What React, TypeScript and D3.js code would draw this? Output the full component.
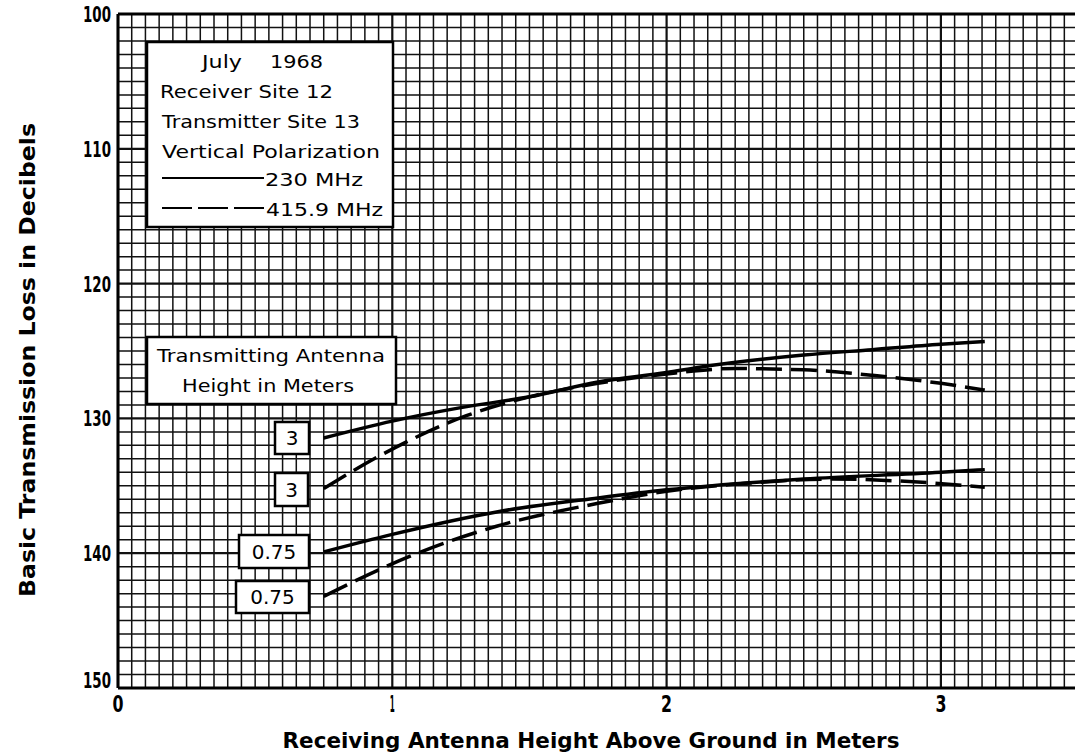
import React from "react";
import * as d3 from "d3";

// ---- Data ----
const xTicks = [0, 1, 2, 3];
const yTicks = [100, 110, 120, 130, 140, 150];

// Transmitting antenna 3 m, 230 MHz (solid)
const solid3X = [0.75, 1.0, 1.25, 1.5, 1.75, 2.0, 2.12, 2.5, 2.75, 3.0, 3.16];
const solid3Y = [131.45, 130.2, 129.2, 128.4, 127.3, 126.6, 126.2, 125.3, 124.9, 124.5, 124.3];
// Transmitting antenna 3 m, 415.9 MHz (dashed)
const dash3X = [0.75, 0.97, 1.27, 1.5, 1.75, 2.0, 2.25, 2.5, 2.75, 3.0, 3.16];
const dash3Y = [135.2, 132.6, 129.8, 128.4, 127.4, 126.7, 126.3, 126.4, 126.8, 127.4, 127.9];
// Transmitting antenna 0.75 m, 230 MHz (solid)
const solid075X = [0.75, 1.0, 1.39, 1.75, 2.0, 2.5, 3.0, 3.16];
const solid075Y = [139.9, 138.6, 136.9, 135.9, 135.3, 134.5, 134.0, 133.8];
// Transmitting antenna 0.75 m, 415.9 MHz (dashed)
const dash075X = [0.75, 1.08, 1.38, 1.75, 2.0, 2.3, 2.6, 2.9, 3.16];
const dash075Y = [143.2, 140.1, 138.0, 136.3, 135.4, 134.8, 134.5, 134.7, 135.1];

const curveLabels = ["3", "3", "0.75", "0.75"];
const legendLines = ["July", "Receiver Site 12", "Transmitter Site 13", "Vertical Polarization", "230 MHz", "415.9 MHz"];

const W = 1075;
const H = 756;
const left = 118;
const right = 1075;
const top = 14;
const bottom = 688;

const FONT = "'DejaVu Sans', sans-serif";

export default function App() {
  const x = d3.scaleLinear().domain([0, 1]).range([left, left + 274.3]);
  const y = d3.scaleLinear().domain([100, 150]).range([top, bottom]);
  const xMax = x.invert(right);

  const vGrid = d3.range(0, xMax + 0.001, 0.05);
  const hGrid = d3.range(100, 150.001, 1);

  const line = d3
    .line<[number, number]>()
    .x((d) => x(d[0]))
    .y((d) => y(d[1]))
    .curve(d3.curveMonotoneX);

  const zip = (a: number[], b: number[]) => a.map((v, i) => [v, b[i]] as [number, number]);

  const series = [
    { pts: zip(solid3X, solid3Y), dash: null },
    { pts: zip(dash3X, dash3Y), dash: "26 9" },
    { pts: zip(solid075X, solid075Y), dash: null },
    { pts: zip(dash075X, dash075Y), dash: "26 9" },
  ];

  const labelBoxes = [
    { x0: 275, x1: 309, y0: 422, y1: 454 },
    { x0: 275, x1: 308, y0: 473, y1: 506 },
    { x0: 239, x1: 309, y0: 535, y1: 568 },
    { x0: 236, x1: 309, y0: 581, y1: 613 },
  ];

  return (
    <svg width={W} height={H} style={{ display: "block", position: "absolute", left: 0, top: 0 }}>
      <rect x={0} y={0} width={W} height={H} fill="#fff" />
      <g stroke="#111">
        {vGrid.map((v, i) => (
          <line
            key={"v" + i}
            x1={x(v)}
            x2={x(v)}
            y1={top}
            y2={bottom}
            strokeWidth={i % 20 === 0 ? 2.2 : 1.5}
          />
        ))}
        {hGrid.map((v, i) => (
          <line
            key={"h" + i}
            x1={left}
            x2={right}
            y1={y(v)}
            y2={y(v)}
            strokeWidth={i % 10 === 0 ? 2.2 : 1.5}
          />
        ))}
      </g>
      <line x1={left} x2={right} y1={top} y2={top} stroke="#000" strokeWidth={3} />
      <line x1={left} x2={right} y1={bottom} y2={bottom} stroke="#000" strokeWidth={3} />
      <line x1={left} x2={left} y1={top} y2={bottom} stroke="#000" strokeWidth={3} />

      {yTicks.map((t) => (
        <text
          key={"yt" + t}
          x={111}
          y={y(t) + (t === 150 ? 0 : 8)}
          textAnchor="end"
          fontFamily={FONT}
          fontWeight="bold"
          fontSize={22}
          textLength={28}
          lengthAdjust="spacingAndGlyphs"
        >
          {t}
        </text>
      ))}
      {xTicks.map((t) => (
        <text
          key={"xt" + t}
          x={x(t)}
          y={bottom + 24}
          textAnchor="middle"
          fontFamily={FONT}
          fontWeight="bold"
          fontSize={23}
          textLength={t === 1 ? 5 : 11}
          lengthAdjust="spacingAndGlyphs"
        >
          {t}
        </text>
      ))}

      <text
        x={591}
        y={748}
        textAnchor="middle"
        fontFamily={FONT}
        fontWeight="bold"
        fontSize={21}
        textLength={617}
        lengthAdjust="spacingAndGlyphs"
      >
        Receiving Antenna Height Above Ground in Meters
      </text>
      <text
        transform={`translate(35, 360) rotate(-90)`}
        textAnchor="middle"
        fontFamily={FONT}
        fontWeight="bold"
        fontSize={21}
        textLength={474}
        lengthAdjust="spacingAndGlyphs"
      >
        Basic Transmission Loss in Decibels
      </text>

      <rect x={147} y={42} width={246} height={185} fill="#fff" stroke="#000" strokeWidth={2.5} />
      <g fontFamily={FONT} fontSize={18} fill="#000">
        <text x={202} y={68} textLength={40} lengthAdjust="spacingAndGlyphs">{legendLines[0]}</text>
        <text x={270} y={68} textLength={53} lengthAdjust="spacingAndGlyphs">1968</text>
        <text x={160} y={98} textLength={173} lengthAdjust="spacingAndGlyphs">{legendLines[1]}</text>
        <text x={162} y={128} textLength={198} lengthAdjust="spacingAndGlyphs">{legendLines[2]}</text>
        <text x={162} y={158} textLength={218} lengthAdjust="spacingAndGlyphs">{legendLines[3]}</text>
        <line x1={162} x2={264} y1={178} y2={178} stroke="#000" strokeWidth={2} />
        <text x={265} y={186} textLength={98} lengthAdjust="spacingAndGlyphs">{legendLines[4]}</text>
        <line x1={162} x2={266} y1={208} y2={208} stroke="#000" strokeWidth={2} strokeDasharray="30 6" />
        <text x={266} y={216} textLength={117} lengthAdjust="spacingAndGlyphs">{legendLines[5]}</text>
      </g>

      <rect x={147} y={337} width={249} height={67} fill="#fff" stroke="#000" strokeWidth={2.5} />
      <g fontFamily={FONT} fontSize={17} fill="#000" textAnchor="middle">
        <text x={271} y={362} textLength={228} lengthAdjust="spacingAndGlyphs">Transmitting Antenna</text>
        <text x={268} y={392} textLength={172} lengthAdjust="spacingAndGlyphs">Height in Meters</text>
      </g>

      {labelBoxes.map((b, i) => (
        <g key={"lb" + i}>
          <rect x={b.x0} y={b.y0} width={b.x1 - b.x0} height={b.y1 - b.y0} fill="#fff" stroke="#000" strokeWidth={2.5} />
          <text
            x={(b.x0 + b.x1) / 2}
            y={(b.y0 + b.y1) / 2 + 7}
            textAnchor="middle"
            fontFamily={FONT}
            fontSize={20}
          >
            {curveLabels[i]}
          </text>
        </g>
      ))}

      {series.map((s, i) => (
        <path
          key={"s" + i}
          d={line(s.pts) || ""}
          fill="none"
          stroke="#000"
          strokeWidth={3.5}
          strokeDasharray={s.dash || undefined}
        />
      ))}
    </svg>
  );
}
